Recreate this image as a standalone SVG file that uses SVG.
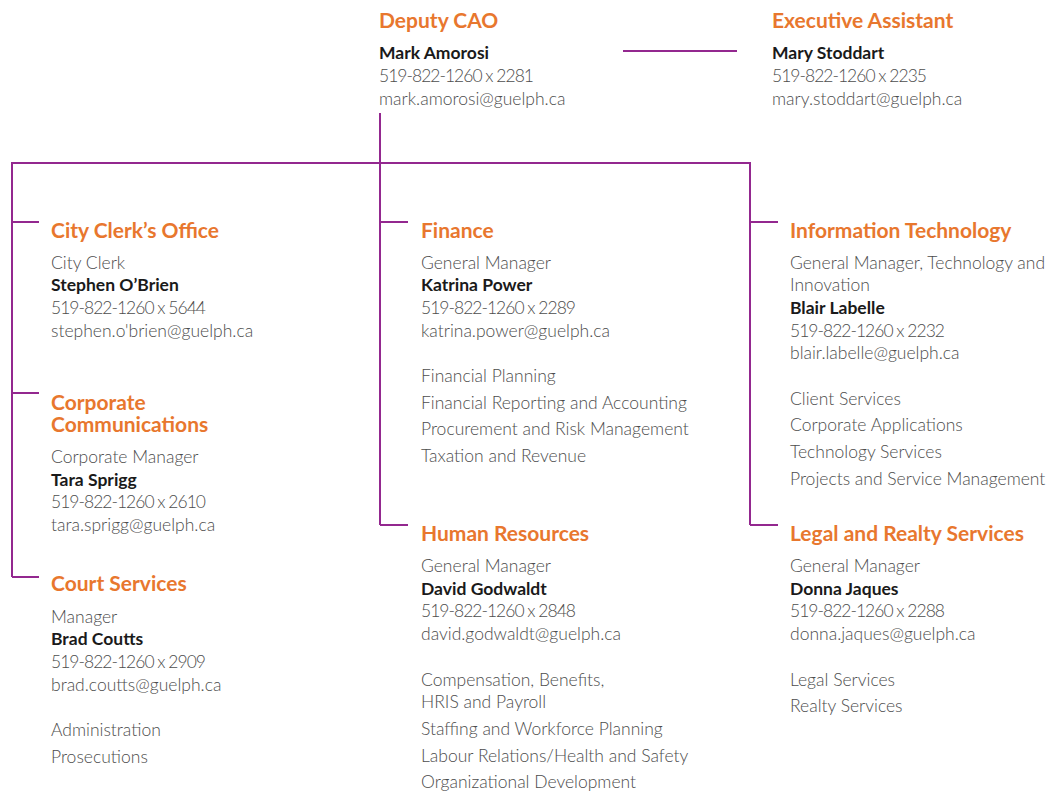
<svg xmlns="http://www.w3.org/2000/svg" width="1051" height="791" viewBox="0 0 1051 791">
  <style>
    .title { font-family: Lato, "Liberation Sans", sans-serif; font-size: 21px; font-weight: 700; fill: #E8772E; }
    .name { font-family: Lato, "Liberation Sans", sans-serif; font-size: 17.5px; font-weight: 700; fill: #1a1a1a; }
    .body { font-family: Lato, "Liberation Sans", sans-serif; font-size: 17.5px; font-weight: 300; fill: #4d4d4d; }
    .link { stroke: #93288F; stroke-width: 2; fill: none; }
  </style>
  <rect width="1051" height="791" fill="#ffffff"/>

  <!-- reporting lines -->
  <g id="connectors">
    <line class="link" x1="623" y1="51" x2="737" y2="51"/>
    <line class="link" x1="380" y1="113" x2="380" y2="525"/>
    <polyline class="link" points="12,577 12,163 750,163 750,525"/>
    <line class="link" x1="12" y1="222" x2="39" y2="222"/>
    <line class="link" x1="12" y1="393" x2="39" y2="393"/>
    <line class="link" x1="12" y1="577" x2="39" y2="577"/>
    <line class="link" x1="380" y1="222" x2="408" y2="222"/>
    <line class="link" x1="380" y1="525" x2="408" y2="525"/>
    <line class="link" x1="750" y1="222" x2="778" y2="222"/>
    <line class="link" x1="750" y1="525" x2="778" y2="525"/>
  </g>

  <g id="deputy-cao">
    <text class="title" x="379" y="28">Deputy CAO</text>
    <text class="name" x="379" y="59">Mark Amorosi</text>
    <text class="body" x="379" y="82" textLength="155">519-822-1260 x 2281</text>
    <text class="body" x="379" y="105">mark.amorosi@guelph.ca</text>
  </g>

  <g id="executive-assistant">
    <text class="title" x="772" y="28">Executive Assistant</text>
    <text class="name" x="772" y="59">Mary Stoddart</text>
    <text class="body" x="772" y="82" textLength="155">519-822-1260 x 2235</text>
    <text class="body" x="772" y="105">mary.stoddart@guelph.ca</text>
  </g>

  <g id="city-clerks-office">
    <text class="title" x="51" y="238">City Clerk’s Office</text>
    <text class="body" x="51" y="269">City Clerk</text>
    <text class="name" x="51" y="291">Stephen O’Brien</text>
    <text class="body" x="51" y="314" textLength="155">519-822-1260 x 5644</text>
    <text class="body" x="51" y="337">stephen.o'brien@guelph.ca</text>
  </g>

  <g id="corporate-communications">
    <text class="title" x="51" y="410">Corporate<tspan x="51" dy="22">Communications</tspan></text>
    <text class="body" x="51" y="463">Corporate Manager</text>
    <text class="name" x="51" y="486">Tara Sprigg</text>
    <text class="body" x="51" y="508" textLength="155">519-822-1260 x 2610</text>
    <text class="body" x="51" y="531">tara.sprigg@guelph.ca</text>
  </g>

  <g id="court-services">
    <text class="title" x="51" y="591">Court Services</text>
    <text class="body" x="51" y="623">Manager</text>
    <text class="name" x="51" y="645">Brad Coutts</text>
    <text class="body" x="51" y="668" textLength="155">519-822-1260 x 2909</text>
    <text class="body" x="51" y="691">brad.coutts@guelph.ca</text>
    <text class="body" x="51" y="736">Administration</text>
    <text class="body" x="51" y="763">Prosecutions</text>
  </g>

  <g id="finance">
    <text class="title" x="421" y="238">Finance</text>
    <text class="body" x="421" y="269">General Manager</text>
    <text class="name" x="421" y="291">Katrina Power</text>
    <text class="body" x="421" y="314" textLength="155">519-822-1260 x 2289</text>
    <text class="body" x="421" y="337">katrina.power@guelph.ca</text>
    <text class="body" x="421" y="382">Financial Planning</text>
    <text class="body" x="421" y="409">Financial Reporting and Accounting</text>
    <text class="body" x="421" y="435">Procurement and Risk Management</text>
    <text class="body" x="421" y="462">Taxation and Revenue</text>
  </g>

  <g id="human-resources">
    <text class="title" x="421" y="541">Human Resources</text>
    <text class="body" x="421" y="572">General Manager</text>
    <text class="name" x="421" y="595">David Godwaldt</text>
    <text class="body" x="421" y="617" textLength="155">519-822-1260 x 2848</text>
    <text class="body" x="421" y="640">david.godwaldt@guelph.ca</text>
    <text class="body" x="421" y="686">Compensation, Benefits,</text>
    <text class="body" x="421" y="708">HRIS and Payroll</text>
    <text class="body" x="421" y="735">Staffing and Workforce Planning</text>
    <text class="body" x="421" y="762">Labour Relations/Health and Safety</text>
    <text class="body" x="421" y="788">Organizational Development</text>
  </g>

  <g id="information-technology">
    <text class="title" x="790" y="238">Information Technology</text>
    <text class="body" x="790" y="269">General Manager, Technology and</text>
    <text class="body" x="790" y="291">Innovation</text>
    <text class="name" x="790" y="314">Blair Labelle</text>
    <text class="body" x="790" y="337" textLength="155">519-822-1260 x 2232</text>
    <text class="body" x="790" y="359">blair.labelle@guelph.ca</text>
    <text class="body" x="790" y="405">Client Services</text>
    <text class="body" x="790" y="431">Corporate Applications</text>
    <text class="body" x="790" y="458">Technology Services</text>
    <text class="body" x="790" y="485">Projects and Service Management</text>
  </g>

  <g id="legal-and-realty-services">
    <text class="title" x="790" y="541">Legal and Realty Services</text>
    <text class="body" x="790" y="572">General Manager</text>
    <text class="name" x="790" y="595">Donna Jaques</text>
    <text class="body" x="790" y="617" textLength="155">519-822-1260 x 2288</text>
    <text class="body" x="790" y="640">donna.jaques@guelph.ca</text>
    <text class="body" x="790" y="686">Legal Services</text>
    <text class="body" x="790" y="712">Realty Services</text>
  </g>
</svg>
